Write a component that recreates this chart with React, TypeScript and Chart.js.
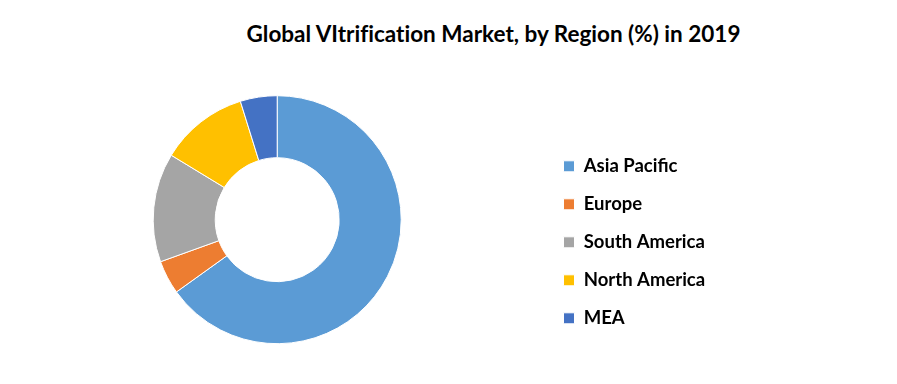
import React, { useEffect, useRef } from "react";
import { Chart, registerables } from "chart.js";

Chart.register(...registerables);

const TITLE = "Global VItrification Market, by Region (%) in 2019";
const regions = ["Asia Pacific", "Europe", "South America", "North America", "MEA"];
const shares = [65.1, 4.4, 14.2, 11.5, 4.8];
const colors = ["#5B9BD5", "#ED7D31", "#A5A5A5", "#FFC000", "#4472C4"];

const W = 897;
const H = 384;
const FONT = "Lato";
const LEGEND_SIZE = 18.5;
const ROW = 38;
const LEGEND_PAD = ROW - LEGEND_SIZE;
const BOX = 11;
const BOX_X = 563.5;
const LEGEND_LEFT = BOX_X - LEGEND_PAD; // chart area right edge
const CX = 277.2;
const CY = 219.7;
const FIRST_ROW_Y = 166.3;

export default function App() {
  const ref = useRef<HTMLCanvasElement | null>(null);

  useEffect(() => {
    const canvas = ref.current;
    if (!canvas) return;
    const ctx = canvas.getContext("2d");
    if (!ctx) return;
    ctx.font = `bold ${LEGEND_SIZE}px ${FONT}`;
    let maxW = 0;
    for (const r of regions) maxW = Math.max(maxW, ctx.measureText(r).width);
    const legendW = LEGEND_PAD + BOX + LEGEND_SIZE / 2 + maxW + 10;
    const padRight = W - LEGEND_LEFT - legendW;
    const padLeft = 2 * CX - LEGEND_LEFT;
    const y0 = FIRST_ROW_Y - LEGEND_SIZE / 2;
    const bottom = y0 + regions.length * ROW;
    const top = 2 * CY - bottom;

    const chart = new Chart(canvas, {
      type: "doughnut",
      data: {
        labels: regions,
        datasets: [
          {
            data: shares,
            backgroundColor: colors,
            borderColor: "#ffffff",
            borderWidth: 1,
            radius: 124,
            cutout: "50%",
          } as any,
        ],
      },
      options: {
        responsive: false,
        animation: false,
        layout: {
          padding: { left: padLeft, right: padRight, top: top, bottom: H - bottom },
        },
        plugins: {
          title: { display: false },
          tooltip: { enabled: false },
          legend: {
            display: true,
            position: "right",
            align: "end",
            labels: {
              boxWidth: BOX,
              boxHeight: BOX,
              padding: LEGEND_PAD,
              color: "#000000",
              font: { family: FONT, size: LEGEND_SIZE, weight: "bold" },
            },
          },
        },
      },
    });
    return () => chart.destroy();
  }, []);

  return (
    <div
      style={{
        position: "fixed",
        left: 0,
        top: 0,
        width: W,
        height: H,
        background: "#ffffff",
        overflow: "hidden",
      }}
    >
      <div
        style={{
          position: "absolute",
          left: 90,
          width: W - 90,
          top: 20,
          textAlign: "center",
          fontFamily: FONT,
          fontWeight: "bold",
          fontSize: 22.5,
          lineHeight: "27px",
          color: "#000000",
          whiteSpace: "nowrap",
          fontVariantLigatures: "none",
        }}
      >
        {TITLE}
      </div>
      <canvas
        ref={ref}
        width={W}
        height={H}
        style={{ position: "absolute", left: 0, top: 0, width: W, height: H }}
      />
    </div>
  );
}
